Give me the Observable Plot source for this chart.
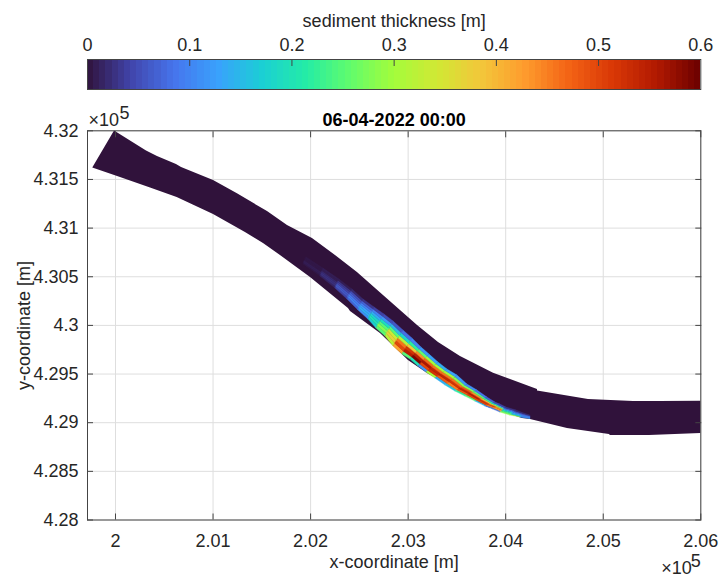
<!DOCTYPE html>
<html><head><meta charset="utf-8">
<style>html,body{margin:0;padding:0;background:#fff}svg{display:block}</style>
<script src="https://cdn.jsdelivr.net/npm/d3@7"></script>
<script src="https://cdn.jsdelivr.net/npm/@observablehq/plot@0.6"></script>
</head><body><div id="c"></div>
<script>
const xTicks=[200000,201000,202000,203000,204000,205000,206000];
const xTickLabels=["2","2.01","2.02","2.03","2.04","2.05","2.06"];
const yTicks=[428000,428500,429000,429500,430000,430500,431000,431500,432000];
const yTickLabels=["4.28","4.285","4.29","4.295","4.3","4.305","4.31","4.315","4.32"];
const barTicks=[0,0.1,0.2,0.3,0.4,0.5,0.6];
const barLabels=["0","0.1","0.2","0.3","0.4","0.5","0.6"];

// colormap anchors, evenly spaced over 0..0.6
const mapColors=["#30123b","#4145ab","#4675ed","#39a2fc","#1bcfd4","#24eca6","#61fc6c","#a4fc3b","#d1e834","#f3c63a","#fe9b2d","#f36315","#d93806","#b11901","#6b0000"];

// river outline (m), lower and upper banks paired by index
const lowerX=[199767,200051,200359,200632,201005,201332,201517,201691,201999,202388,202409,202716,203003,203198,203505,203813,204172,204254,204633,205063,205074,205474,206000];
const lowerY=[431618,431520,431412,431314,431140,430955,430841,430718,430492,430173,430142,429916,429639,429505,429330,429159,429042,429032,428940,428878,428868,428868,428888];
const upperX=[199990,200318,200430,200625,200677,201005,201250,201558,201763,202019,202255,202480,202747,203096,203311,203536,203875,204326,204326,204848,205310,205586,206000];
const upperY=[431998,431792,431736,431654,431623,431489,431352,431170,431026,430893,430718,430543,430307,429998,429824,429680,429508,429341,429325,429238,429217,429217,429220];

// sediment patch: stations along the channel (m)
const sedLowX=[201927,202101,202255,202378,202491,202593,202675,202768,202850,202942,203024,203106,203188,203280,203383,203485,203588,203690,203793,203875,203946,204049,204151,204254];
const sedLowY=[430626,430502,430379,430266,430153,430060,429968,429885,429783,429700,429649,429577,429515,429454,429382,429320,429269,429217,429166,429135,429104,429073,429053,429037];
const sedUpX=[201958,202132,202296,202429,202542,202655,202757,202850,202952,203044,203137,203219,203311,203403,203506,203608,203711,203813,203895,203946,204008,204110,204192,204254];
const sedUpY=[430698,430584,430471,430369,430266,430184,430112,430040,429947,429865,429772,429700,429618,429546,429484,429392,429330,429258,429207,429186,429155,429125,429094,429073];

// thickness [m] per station, from bank side to channel side
const layer0=[.005,.015,.04,.07,.11,.17,.25,.32,.42,.25,.20,.12,.30,.14,.16,.22,.25,.15,.10,.08,.28,.30,.12,.06];
const layer1=[.01,.025,.06,.10,.14,.20,.28,.37,.50,.55,.59,.50,.52,.48,.45,.48,.50,.50,.45,.42,.25,.17,.11,.06];
const layer2=[.01,.025,.06,.09,.13,.18,.25,.34,.46,.52,.55,.56,.54,.54,.52,.54,.55,.52,.50,.45,.20,.14,.10,.06];
const layer3=[.005,.02,.04,.07,.10,.14,.19,.25,.32,.38,.44,.47,.46,.46,.46,.48,.44,.40,.35,.28,.14,.10,.09,.05];
const layer4=[.005,.01,.03,.05,.07,.10,.12,.15,.18,.22,.26,.30,.30,.30,.28,.28,.25,.22,.18,.14,.08,.06,.06,.03];
const layer5=[.005,.01,.01,.02,.03,.04,.05,.06,.08,.10,.12,.13,.14,.13,.12,.11,.09,.07,.05,.04,.03,.02,.02,.01];
const layers=[layer0,layer1,layer2,layer3,layer4,layer5];

const title="06-04-2022 00:00";
const barTitle="sediment thickness [m]";
const xTitle="x-coordinate [m]";
const yTitle="y-coordinate [m]";

const ink="#262626", FONT="'Liberation Sans',Arial,sans-serif", TS=18;
const colorScale={type:"linear",domain:mapColors.map((_,i)=>0.6*i/(mapColors.length-1)),range:mapColors,interpolate:"rgb",clamp:true};

const river=lowerX.map((_,i)=>({x1:lowerX[i],y1:lowerY[i],x2:upperX[i],y2:upperY[i]}));
const cells=[];
layers.forEach((row,j)=>{
  for(let i=0;i<row.length-1;i++){
    for(const k of [i,i+1]){
      const at=f=>({x:sedLowX[k]+(sedUpX[k]-sedLowX[k])*f,y:sedLowY[k]+(sedUpY[k]-sedLowY[k])*f});
      const a=at(j/layers.length),b=at((j+1)/layers.length);
      cells.push({id:j+"-"+i,v:row[i],x1:a.x,y1:a.y,x2:b.x,y2:b.y});
    }
  }
});

const levels=d3.range(100).map(i=>({a:i*0.006,b:(i+1)*0.006,v:(i+0.5)*0.006}));
const bar=Plot.plot({
  width:720,height:118,marginLeft:87,marginRight:19.7,marginTop:59,marginBottom:29,
  style:{fontFamily:FONT,fontSize:TS+"px",color:ink,background:"#fff"},
  x:{domain:[0,0.6]},
  y:{domain:[0,1],axis:null},
  color:colorScale,
  marks:[
    Plot.rect(levels,{x1:"a",x2:"b",y1:()=>0,y2:()=>1,fill:"v",shapeRendering:"crispEdges"}),
    Plot.axisX(barTicks,{anchor:"top",tickSize:0,tickPadding:9,fontSize:TS,tickFormat:(d)=>barLabels[barTicks.indexOf(d)],label:barTitle,labelAnchor:"center",labelArrow:"none",labelOffset:45}),
    Plot.axisX(barTicks.slice(1,-1),{anchor:"top",tickSize:-6,stroke:"#444",tickFormat:()=>"",label:null}),
    Plot.frame({stroke:"#444",strokeWidth:1})
  ]
});

const main=Plot.plot({
  width:720,height:461,marginLeft:87,marginRight:19.7,marginTop:12.3,marginBottom:59.5,
  style:{fontFamily:FONT,fontSize:TS+"px",color:ink,background:"transparent",overflow:"visible"},
  x:{domain:[199713,206000]},
  y:{domain:[428000,432000]},
  color:colorScale,
  marks:[
    Plot.ruleX(xTicks,{stroke:"#dedede",strokeWidth:1}),
    Plot.ruleY(yTicks,{stroke:"#dedede",strokeWidth:1}),
    Plot.area(river,{x1:"x1",y1:"y1",x2:"x2",y2:"y2",fill:()=>0}),
    Plot.area(cells,{x1:"x1",y1:"y1",x2:"x2",y2:"y2",z:"id",fill:"v",stroke:"v",strokeWidth:0.4}),
    Plot.axisX(xTicks,{anchor:"bottom",tickSize:0,tickPadding:14,fontSize:TS,tickFormat:d=>xTickLabels[xTicks.indexOf(d)],label:xTitle,labelAnchor:"center",labelArrow:"none",labelOffset:48}),
    Plot.axisY(yTicks,{anchor:"left",tickSize:0,tickPadding:9,fontSize:TS,tickFormat:d=>yTickLabels[yTicks.indexOf(d)],label:yTitle,labelAnchor:"center",labelArrow:"none",labelOffset:70}),
    Plot.axisX(xTicks,{anchor:"bottom",tickSize:-6,stroke:"#444",tickFormat:()=>"",label:null}),
    Plot.axisX(xTicks,{anchor:"top",tickSize:-6,stroke:"#444",tickFormat:()=>"",label:null}),
    Plot.axisY(yTicks,{anchor:"left",tickSize:-6,stroke:"#444",tickFormat:()=>"",label:null}),
    Plot.axisY(yTicks,{anchor:"right",tickSize:-6,stroke:"#444",tickFormat:()=>"",label:null}),
    Plot.frame({stroke:"#444",strokeWidth:1}),
    Plot.text([title],{frameAnchor:"top",dy:-18,fontWeight:"bold",fontSize:TS,fill:"#000"}),
    Plot.text(["×10"],{frameAnchor:"top-left",textAnchor:"start",dx:1,dy:-18,fontSize:TS,fill:ink}),
    Plot.text(["5"],{frameAnchor:"top-left",textAnchor:"start",dx:32,dy:-25,fontSize:TS,fill:ink}),
    Plot.text(["×10"],{frameAnchor:"bottom-right",textAnchor:"end",dx:-9,dy:54,fontSize:TS,fill:ink}),
    Plot.text(["5"],{frameAnchor:"bottom-right",textAnchor:"end",dx:0,dy:47,fontSize:TS,fill:ink})
  ]
});
document.getElementById("c").append(bar,main);
</script></body></html>
